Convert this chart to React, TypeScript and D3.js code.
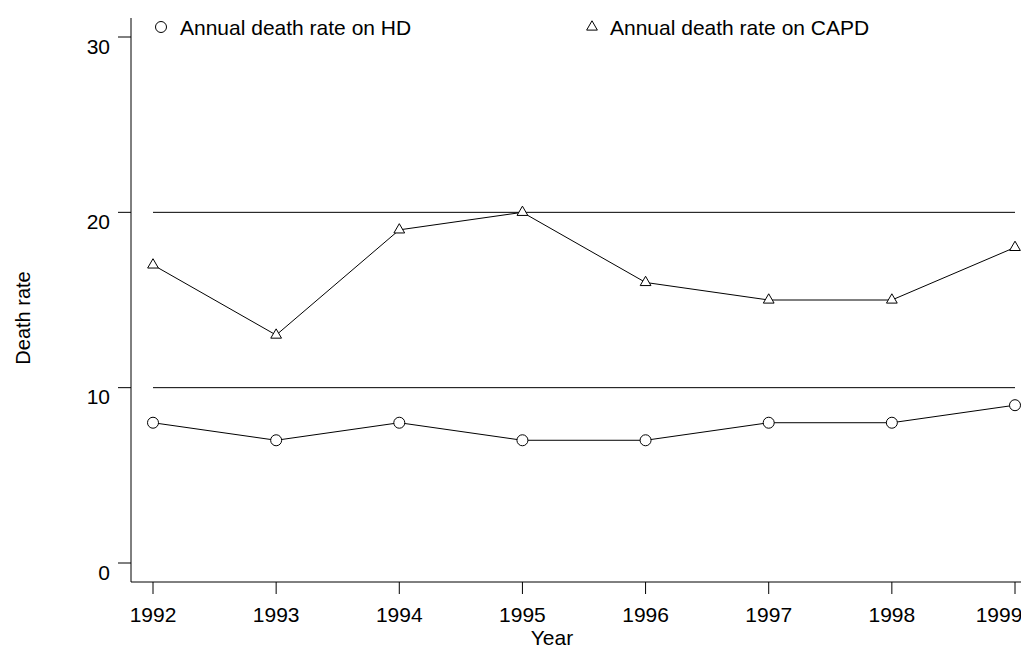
import React from 'react';
import * as d3 from 'd3';

const years = [1992, 1993, 1994, 1995, 1996, 1997, 1998, 1999];
const hdRates = [8, 7, 8, 7, 7, 8, 8, 9];
const capdRates = [17, 13, 19, 20, 16, 15, 15, 18];
const yTicks = [0, 10, 20, 30];
const refLines = [10, 20];

export default function App() {
  const width = 1021, height = 650;
  const x = d3.scaleLinear().domain([1992, 1999]).range([153, 1015]);
  const y = d3.scaleLinear().domain([0, 30]).range([563, 37]);
  const line = d3.line<number>().x((_, i) => x(years[i])).y(d => y(d));
  const tri = d3.symbol().type(d3.symbolTriangle).size(50)();
  const font = 'Arial, "Liberation Sans", sans-serif';
  const axisY = 582;

  return (
    <svg width={width} height={height} style={{ position: 'absolute', left: 0, top: 0, background: '#fff' }} fontFamily={font}>
      <line x1={131} x2={131} y1={18} y2={axisY} stroke="#000" />
      {yTicks.map(t => (
        <g key={t}>
          <line x1={118} x2={131} y1={y(t)} y2={y(t)} stroke="#000" />
          <text x={110} y={y(t) + 9} dy="0.36em" textAnchor="end" fontSize={21}>{t}</text>
        </g>
      ))}
      <text transform="translate(30,318) rotate(-90)" textAnchor="middle" fontSize={20}>Death rate</text>
      <line x1={131} x2={1021} y1={axisY} y2={axisY} stroke="#000" />
      {years.map(yr => (
        <g key={yr}>
          <line x1={x(yr)} x2={x(yr)} y1={axisY} y2={axisY + 12} stroke="#000" />
          <text x={Math.min(x(yr), 999)} y={622} textAnchor="middle" fontSize={21}>{yr}</text>
        </g>
      ))}
      <text x={552} y={645} textAnchor="middle" fontSize={21}>Year</text>
      {refLines.map(r => (
        <line key={r} x1={x(1992)} x2={x(1999)} y1={y(r)} y2={y(r)} stroke="#000" />
      ))}
      <path d={line(hdRates) || ''} fill="none" stroke="#000" />
      <path d={line(capdRates) || ''} fill="none" stroke="#000" />
      {hdRates.map((v, i) => (
        <circle key={i} cx={x(years[i])} cy={y(v)} r={5.5} fill="#fff" stroke="#000" />
      ))}
      {capdRates.map((v, i) => (
        <path key={i} d={tri} transform={`translate(${x(years[i])},${y(v)})`} fill="#fff" stroke="#000" />
      ))}
      <circle cx={161} cy={27} r={5.5} fill="#fff" stroke="#000" />
      <text x={180} y={35} fontSize={21}>Annual death rate on HD</text>
      <path d={tri} transform="translate(592,27)" fill="#fff" stroke="#000" />
      <text x={610} y={35} fontSize={21}>Annual death rate on CAPD</text>
    </svg>
  );
}
